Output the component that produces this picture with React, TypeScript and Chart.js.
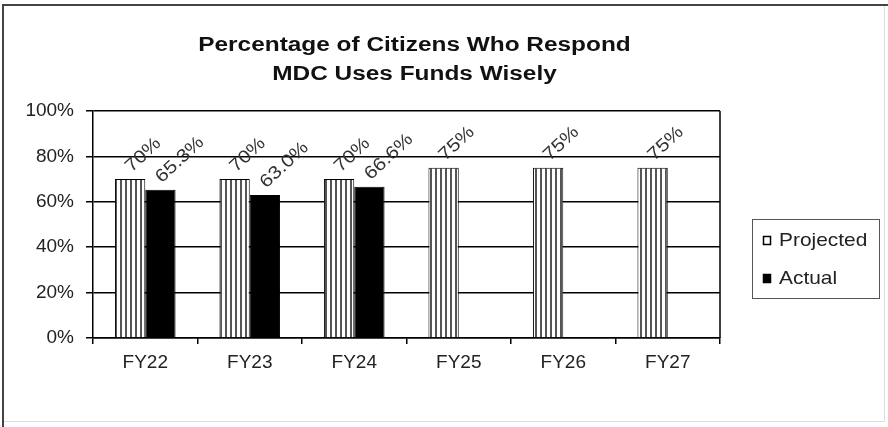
import React, { useEffect, useRef } from "react";
import { Chart, registerables } from "chart.js";

Chart.register(...registerables);

const categories = ["FY22", "FY23", "FY24", "FY25", "FY26", "FY27"];
const projected = [70, 70, 70, 75, 75, 75];
const actual = [65.3, 63.0, 66.6, null, null, null];
const yTicks = [0, 20, 40, 60, 80, 100];
const titleLines = ["Percentage of Citizens Who Respond", "MDC Uses Funds Wisely"];
const seriesNames = ["Projected", "Actual"];
const labelDecimals = [0, 1];

const FONT = "'Liberation Sans', Arial, sans-serif";
const STRETCH = 1.15;

function makeStripePattern(ctx: CanvasRenderingContext2D) {
  const c = document.createElement("canvas");
  c.width = 5;
  c.height = 10;
  const p = c.getContext("2d")!;
  p.fillStyle = "#ffffff";
  p.fillRect(0, 0, 5, 10);
  p.fillStyle = "#555555";
  p.fillRect(0, 0, 2, 10);
  return ctx.createPattern(c, "repeat")!;
}

const framePlugin = {
  id: "frame",
  beforeDraw(chart: any) {
    const { ctx, width, height } = chart;
    ctx.save();
    ctx.fillStyle = "#ffffff";
    ctx.fillRect(0, 0, width, height);
    ctx.strokeStyle = "#dddddd";
    ctx.lineWidth = 1;
    ctx.beginPath();
    ctx.moveTo(884.5, 5);
    ctx.lineTo(884.5, 421.5);
    ctx.lineTo(3, 421.5);
    ctx.stroke();
    ctx.strokeStyle = "#444444";
    ctx.lineWidth = 2;
    ctx.beginPath();
    ctx.moveTo(3, height);
    ctx.lineTo(3, 5);
    ctx.lineTo(width, 5);
    ctx.stroke();
    ctx.restore();
  },
  afterDraw(chart: any) {
    const { ctx, chartArea } = chart;
    ctx.save();
    ctx.fillStyle = "#111";
    ctx.font = `bold 20px ${FONT}`;
    ctx.textAlign = "center";
    ctx.textBaseline = "middle";
    const cx = (chartArea.left + chartArea.right) / 2 + 8;
    titleLines.forEach((line, i) => {
      ctx.save();
      ctx.translate(cx, chartArea.top - 66 + i * 29);
      ctx.scale(1.22, 1);
      ctx.fillText(line, 0, 0);
      ctx.restore();
    });
    ctx.restore();
  },
};

const overlayPlugin = {
  id: "overlay",
  afterDatasetsDraw(chart: any) {
    const { ctx, chartArea } = chart;
    ctx.save();
    // plot right border
    ctx.strokeStyle = "#000";
    ctx.lineWidth = 1.5;
    ctx.beginPath();
    ctx.moveTo(chartArea.right, chartArea.top);
    ctx.lineTo(chartArea.right, chartArea.bottom);
    ctx.stroke();

    // data labels
    ctx.fillStyle = "#333";
    ctx.font = `18px ${FONT}`;
    ctx.textAlign = "left";
    ctx.textBaseline = "middle";
    chart.data.datasets.forEach((ds: any, di: number) => {
      const meta = chart.getDatasetMeta(di);
      meta.data.forEach((el: any, i: number) => {
        const v = ds.data[i];
        if (v === null || v === undefined) return;
        const txt = Number(v).toFixed(labelDecimals[di]) + "%";
        ctx.save();
        ctx.translate(el.x - 2, el.y - 10);
        ctx.rotate(-Math.PI / 4.2);
        ctx.scale(STRETCH, 1);
        ctx.fillText(txt, 0, 0);
        ctx.restore();
      });
    });

    // legend
    const lx = chartArea.right + 32;
    const ly = chartArea.top + 108;
    const lw = 127;
    const lh = 79;
    ctx.strokeStyle = "#555";
    ctx.lineWidth = 1;
    ctx.strokeRect(lx + 0.5, ly + 0.5, lw, lh);
    ctx.textBaseline = "middle";
    chart.data.datasets.forEach((ds: any, di: number) => {
      const cy = ly + 21 + di * 38;
      const sx = lx + 11;
      ctx.fillStyle = di === 0 ? "#ffffff" : "#000000";
      ctx.fillRect(sx, cy - 4, 8, 9);
      ctx.strokeStyle = "#000";
      ctx.lineWidth = 1.5;
      ctx.strokeRect(sx + 0.5, cy - 3.5, 7, 8);
      ctx.fillStyle = "#222";
      ctx.save();
      ctx.translate(sx + 16, cy + 1);
      ctx.font = `19px ${FONT}`;
      ctx.scale(1.1, 1);
      ctx.fillText(ds.label, 0, 0);
      ctx.restore();
    });
    ctx.restore();
  },
};

export default function App() {
  const ref = useRef<HTMLCanvasElement>(null);

  useEffect(() => {
    const canvas = ref.current!;
    const ctx = canvas.getContext("2d")!;
    const pattern = makeStripePattern(ctx);
    const chart = new Chart(canvas, {
      type: "bar",
      data: {
        labels: categories,
        datasets: [
          {
            label: seriesNames[0],
            data: projected,
            backgroundColor: pattern as any,
            borderColor: "#000",
            borderWidth: 1,
          },
          {
            label: seriesNames[1],
            data: actual as any,
            backgroundColor: "#000",
            borderColor: "#000",
            borderWidth: 1,
          },
        ],
      },
      options: {
        responsive: false,
        animation: false,
        layout: { padding: { left: 0, right: 168, top: 111, bottom: 0 } },
        datasets: { bar: { categoryPercentage: 0.58, barPercentage: 1 } } as any,
        plugins: {
          legend: { display: false },
          tooltip: { enabled: false },
          title: { display: false },
        },
        scales: {
          x: {
            grid: { offset: true, drawOnChartArea: false, tickLength: 6, color: "#000", lineWidth: 1.5 },
            border: { color: "#000", width: 1.5 },
            ticks: { font: { family: FONT, size: 19 }, color: "#222", padding: 7 },
            afterFit: (s: any) => {
              s.height = 89;
            },
          },
          y: {
            min: 0,
            max: 100,
            afterBuildTicks: (s: any) => {
              s.ticks = yTicks.map((v) => ({ value: v }));
            },
            ticks: {
              font: { family: FONT, size: 19 },
              color: "#222",
              padding: 12,
              callback: (v: any) => v + "%",
            },
            grid: { color: "#000", lineWidth: 1.5, tickLength: 7 },
            border: { color: "#000", width: 1.5 },
            afterFit: (s: any) => {
              s.width = 93;
            },
          },
        },
      },
      plugins: [framePlugin, overlayPlugin],
    });
    return () => chart.destroy();
  }, []);

  return (
    <div style={{ position: "absolute", left: 0, top: 0, width: 888, height: 427 }}>
      <canvas ref={ref} width={888} height={427} style={{ display: "block" }} />
    </div>
  );
}
